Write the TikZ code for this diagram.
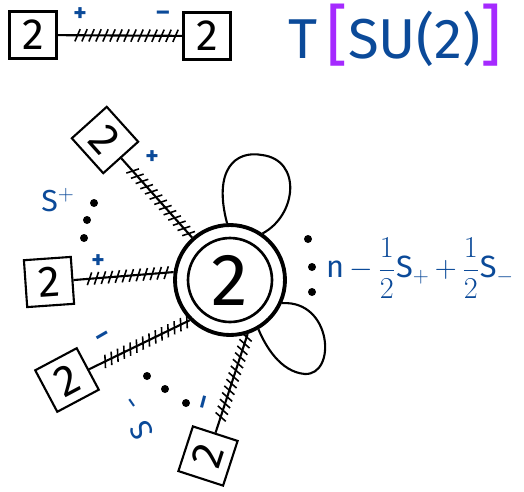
\documentclass[tikz,border=0pt]{standalone}
\usepackage{fontspec}
\setmainfont{Fira Sans}
\usetikzlibrary{decorations.markings}
\definecolor{inkBlue}{HTML}{0B4A99}
\definecolor{inkPurple}{HTML}{A52AFF}

\begin{document}
\begin{tikzpicture}[x=0.02cm, y=-0.02cm,
    flav/.style={draw, line width=1.2pt, minimum size=0.94cm, inner sep=0pt, font=\Huge},
    gauge/.style={circle, draw, line width=2.2pt, minimum size=2.2cm, inner sep=0pt},
    hatch/.style={line width=1.2pt, postaction={decorate}, decoration={markings,
        mark=between positions 0.16 and 0.99 step 0.14cm with {\draw[line width=0.9pt] (-1.5pt,-3.5pt) -- (1.5pt,3.5pt);}}},
    sgn/.style={text=inkBlue, font=\Large\bfseries, inner sep=0pt},
    dot/.style={fill, circle, inner sep=0pt, minimum size=0.16cm}
  ]
    \useasboundingbox (0,0) rectangle (524,491);
    % top: bifundamental between two flavour nodes
    \node[flav] (L) at (33,35) {2};
    \node[flav] (R) at (207,36) {2};
    \draw[hatch] (L) -- (R);
    \node[sgn] at (80,15) {+};
    \node[sgn] at (163,16) {–};
    \node[text=inkBlue, font=\fontsize{32}{32}\selectfont] (title) at (395,35)
      {T\,\textcolor{inkPurple}{\fontsize{38}{38}\selectfont[}SU(2)\textcolor{inkPurple}{\fontsize{38}{38}\selectfont]}};

    % gauge node
    \node[gauge] (C) at (230,280) {};
    \node[circle, draw, line width=1.5pt, minimum size=1.68cm, inner sep=0pt,
      font=\fontsize{42}{42}\selectfont] (Cin) at (C) {2};

    % adjoint loops
    \draw[line width=1.2pt] (C.93) .. controls (213,170) and (235,150) .. (262,155)
      .. controls (302,160) and (297,215) .. (C.55);
    \draw[line width=1.2pt] (C.-24) .. controls (332,300) and (337,375) .. (305,374)
      .. controls (280,372) and (265,345) .. (C.-60);
    \node[dot] at (308,239) {};
    \node[dot] at (312,267) {};
    \node[dot] at (312,292) {};
    \node[text=inkBlue, font=\fontsize{17.5}{17.5}\selectfont, anchor=west, inner sep=1pt] (nlab) at (324,268)
      {$\displaystyle\mathrm{n}\,{-}\,\frac{1}{2}\mathrm{S}_{+}\,{+}\,\frac{1}{2}\mathrm{S}_{-}$};

    % flavour nodes
    \node[flav, rotate=-48] (B1) at (105,140) {2};
    \node[flav, rotate=4] (B2) at (49,282) {2};
    \node[flav, rotate=28] (B3) at (67,380) {2};
    \node[flav, rotate=72] (B4) at (208,456) {2};
    \draw[hatch] (B1) -- (C);
    \draw[hatch] (B2) -- (C.172);
    \draw[hatch] (B3) -- (C.225);
    \draw[hatch] (B4) -- (C.-72);
    \node[sgn] at (152,158) {+};
    \node[sgn] at (98,262) {+};
    \node[sgn, rotate=30] at (104,338) {–};
    \node[sgn, rotate=75] at (207,403) {–};

    % multiplicities
    \node[dot] at (94,203) {};
    \node[dot] at (87,220) {};
    \node[dot] at (84,238) {};
    \node[text=inkBlue, font=\LARGE] (sp) at (58,200) {S$^{+}$};
    \node[dot] at (147,376) {};
    \node[dot] at (165,389) {};
    \node[dot] at (186,403) {};
    \node[text=inkBlue, font=\LARGE, rotate=115, inner sep=0pt] (sm) at (142,430) {S};
    \node[sgn, font=\normalsize\bfseries, rotate=-55] at (130,404) {–};
  \end{tikzpicture}
\end{document}
